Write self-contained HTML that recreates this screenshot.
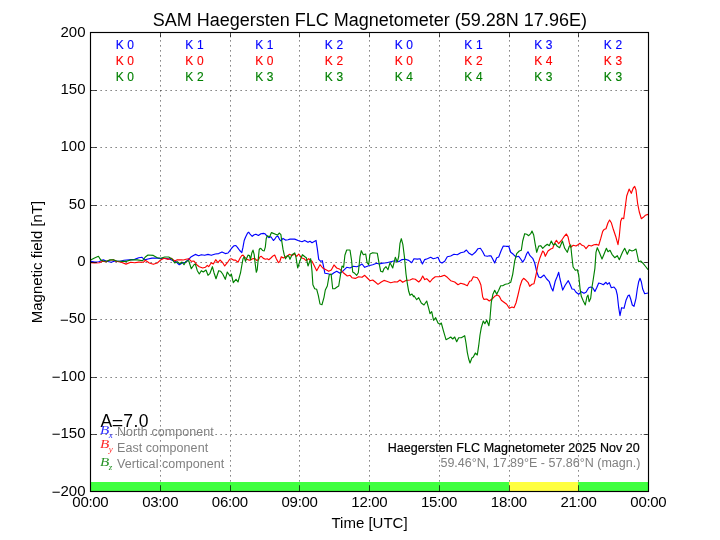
<!DOCTYPE html>
<html><head><meta charset="utf-8"><title>SAM Haegersten FLC Magnetometer</title>
<style>
html,body{margin:0;padding:0;background:#fff;}
body{width:720px;height:540px;position:relative;overflow:hidden;font-family:"Liberation Sans",Arial,sans-serif;color:#000;}
.t{position:absolute;white-space:nowrap;line-height:1;}
.c{transform:translateX(-50%);}
.r{transform:translateX(-100%);}
.tick{font-size:15px;}
.k{font-size:12px;letter-spacing:0.15px;-webkit-text-stroke:0.12px currentColor;}
.b{color:#0000ff;}.rd{color:#ff0000;}.g{color:#008000;}
.gray{color:#808080;}
.mn{position:relative;top:1.2px;}
.bb{display:inline-block;transform:scale(1.08,0.9);transform-origin:0 78%;margin-right:0.8px;}
.m{font-family:"Liberation Serif","DejaVu Serif",serif;font-style:italic;}
</style></head><body>
<svg width="720" height="540" viewBox="0 0 720 540" style="position:absolute;left:0;top:0">
<path d="M160.5 491.5 V32.5 M230.5 491.5 V32.5 M299.5 491.5 V32.5 M369.5 491.5 V32.5 M439.5 491.5 V32.5 M509.5 491.5 V32.5 M578.5 491.5 V32.5 M90.5 434.5 H648.5 M90.5 377.5 H648.5 M90.5 319.5 H648.5 M90.5 262.5 H648.5 M90.5 205.5 H648.5 M90.5 147.5 H648.5 M90.5 90.5 H648.5" stroke="#000" stroke-width="0.625" stroke-dasharray="1.25 3.75" fill="none"/>
<rect x="90.5" y="482" width="558" height="9.5" fill="#40ff40"/>
<rect x="509.0" y="482" width="69.2" height="9.5" fill="#ffff40"/>
<path d="M90.7 261.3 L94.7 262.1 L98.7 261.7 L103.3 259.9 L106.7 261.3 L111.3 262.3 L114.7 261.0 L120.0 261.3 L124.0 260.3 L129.3 259.9 L134.7 259.4 L138.7 257.7 L142.0 257.3 L144.7 259.9 L148.0 259.0 L152.0 258.1 L157.3 258.1 L160.7 258.6 L165.3 258.3 L169.3 259.0 L173.3 260.7 L176.0 261.7 L179.3 264.7 L182.7 262.7 L185.3 262.4 L188.0 260.0 L191.3 256.7 L195.3 254.4 L198.7 255.7 L201.3 254.7 L204.7 255.3 L208.0 254.4 L211.3 255.3 L215.3 254.0 L218.7 253.6 L222.0 252.0 L225.3 253.6 L228.0 253.0 L229.7 250.9 L231.8 248.0 L233.8 245.9 L235.9 245.5 L237.6 247.6 L239.7 250.5 L241.8 252.6 L243.0 247.2 L244.2 240.5 L245.5 237.2 L247.6 233.0 L248.8 232.2 L250.5 234.7 L252.2 236.3 L254.2 234.7 L255.9 234.2 L258.4 235.5 L260.9 233.7 L263.4 233.4 L265.1 233.8 L266.8 235.9 L268.8 237.6 L270.9 236.8 L273.4 240.5 L274.7 239.2 L276.3 236.8 L278.0 236.3 L279.7 239.7 L280.9 240.9 L283.0 238.4 L285.5 240.1 L288.0 239.7 L290.0 239.1 L294.7 239.1 L298.7 240.7 L302.0 241.7 L304.7 240.4 L308.0 242.3 L310.0 241.3 L312.0 242.7 L316.0 240.4 L317.3 248.7 L318.7 259.3 L320.7 261.3 L322.3 260.7 L324.0 268.7 L324.9 273.3 L328.0 273.7 L331.3 274.7 L334.0 272.7 L336.7 271.3 L340.0 273.3 L343.3 270.7 L346.7 267.3 L350.0 268.0 L353.3 266.3 L356.7 266.7 L359.3 265.7 L362.0 264.0 L364.7 267.3 L368.7 265.7 L372.7 264.7 L376.7 263.3 L379.3 264.0 L382.7 263.1 L386.7 262.7 L390.7 261.7 L394.7 260.7 L398.7 261.7 L402.0 259.6 L405.3 259.3 L408.7 260.4 L411.7 262.7 L414.0 258.7 L417.3 259.1 L420.0 258.7 L422.4 264.0 L424.7 259.6 L427.3 258.7 L430.7 257.3 L433.3 258.7 L436.0 258.0 L438.0 257.3 L440.0 262.0 L442.0 263.1 L444.7 261.3 L447.3 256.7 L450.7 256.0 L454.0 254.3 L457.3 254.7 L460.7 252.7 L464.0 252.0 L466.4 250.0 L468.7 252.9 L472.0 255.1 L475.3 252.3 L478.0 248.7 L480.4 248.3 L482.7 251.7 L484.7 255.7 L487.3 256.3 L489.3 255.7 L491.1 255.9 L492.7 259.0 L494.7 263.0 L496.7 257.7 L498.7 257.0 L501.3 250.3 L503.3 246.1 L506.0 246.3 L508.7 246.3 L510.7 252.3 L513.3 254.3 L516.0 257.0 L518.7 256.3 L520.7 259.0 L522.7 262.1 L524.7 259.0 L526.7 253.7 L528.0 251.7 L530.0 255.7 L532.7 258.3 L534.7 263.0 L536.7 271.7 L538.7 277.0 L540.7 277.7 L544.0 275.0 L546.7 279.0 L549.3 281.7 L551.3 287.7 L552.9 291.0 L555.3 281.0 L557.3 276.3 L558.7 272.3 L560.0 279.0 L562.7 290.1 L565.3 285.0 L568.3 280.7 L570.0 284.3 L572.0 289.0 L574.0 289.3 L576.0 292.3 L578.7 294.3 L581.3 291.7 L584.0 293.3 L586.0 292.3 L588.7 287.7 L590.7 287.0 L592.7 287.7 L594.9 291.4 L596.7 287.7 L598.7 283.0 L601.3 283.7 L603.3 284.7 L606.0 282.3 L607.3 284.3 L609.3 282.6 L611.3 287.7 L614.0 287.0 L616.0 289.7 L617.3 295.0 L618.7 307.7 L620.0 315.7 L621.6 307.7 L624.0 308.3 L626.0 300.3 L628.0 295.7 L629.3 295.0 L630.7 299.0 L632.3 305.0 L634.0 306.3 L636.0 298.3 L637.3 289.0 L638.7 281.7 L640.0 278.3 L641.3 281.7 L642.7 289.0 L644.7 293.7 L648.0 293.0" stroke="#0000ff" stroke-width="1.15" fill="none" stroke-linejoin="round"/>
<path d="M90.7 262.6 L94.7 263.0 L99.3 262.7 L102.7 261.3 L105.3 261.7 L109.3 260.3 L113.3 259.7 L116.0 261.3 L121.3 262.3 L126.0 264.1 L130.7 262.3 L134.7 262.7 L138.7 262.1 L143.3 262.3 L145.3 260.3 L149.3 263.0 L153.3 264.3 L157.3 263.0 L160.7 259.9 L164.0 258.3 L168.0 259.4 L171.3 258.3 L174.7 261.0 L177.3 259.7 L181.3 259.9 L183.3 260.0 L186.0 259.3 L188.7 258.7 L191.3 261.3 L194.0 261.1 L196.7 264.7 L199.3 266.7 L202.7 268.0 L205.3 267.3 L207.3 265.3 L208.7 266.7 L211.3 262.7 L213.3 264.0 L215.7 259.7 L218.0 262.7 L220.0 260.0 L222.7 262.7 L224.7 266.0 L226.7 263.3 L228.0 261.8 L229.7 259.2 L231.3 258.8 L233.4 260.1 L235.5 260.1 L238.0 262.2 L240.1 258.0 L241.8 255.5 L243.0 255.1 L244.7 257.2 L246.8 259.2 L248.8 260.1 L250.5 260.1 L252.6 258.8 L254.7 258.4 L256.8 260.5 L258.4 259.7 L260.1 256.8 L261.3 256.3 L263.4 258.4 L265.5 259.2 L267.2 258.8 L268.8 259.7 L270.9 258.0 L273.0 255.9 L274.7 255.1 L276.3 258.8 L278.4 262.6 L279.7 261.8 L281.3 256.8 L283.4 258.0 L285.5 256.8 L288.0 255.5 L289.3 254.3 L292.0 255.6 L294.7 254.0 L296.7 256.4 L298.7 254.0 L301.3 257.7 L304.0 258.7 L306.0 260.7 L308.7 258.7 L310.0 260.0 L312.0 261.3 L314.0 265.3 L316.7 270.7 L320.0 264.7 L322.7 268.0 L326.0 269.7 L328.7 271.3 L331.3 270.0 L334.0 264.9 L336.7 268.0 L340.0 269.3 L343.3 272.7 L347.3 276.0 L350.0 275.3 L352.0 277.7 L355.3 278.4 L358.7 276.7 L362.0 277.3 L364.7 275.3 L367.3 278.0 L370.0 280.7 L372.7 280.0 L375.3 282.0 L378.0 284.4 L381.3 282.0 L384.0 280.4 L386.7 281.3 L390.7 282.7 L394.7 281.7 L397.3 282.0 L400.0 280.0 L402.7 282.3 L406.0 280.4 L410.0 280.0 L412.7 278.7 L415.3 279.3 L418.7 282.0 L420.7 280.0 L422.7 276.0 L424.7 279.6 L426.7 278.7 L430.0 282.0 L432.7 278.7 L435.3 276.7 L438.7 276.7 L441.3 276.4 L444.4 275.3 L447.3 277.3 L450.7 280.7 L454.7 282.0 L458.0 284.7 L460.7 283.3 L464.7 284.4 L467.3 285.7 L469.6 281.3 L471.3 280.7 L473.3 276.7 L477.3 277.7 L479.3 281.0 L480.9 285.0 L482.7 297.0 L484.0 299.4 L486.7 299.0 L489.3 301.0 L492.0 299.0 L494.7 296.3 L497.3 295.0 L499.3 296.3 L501.3 300.3 L504.0 302.3 L506.7 304.3 L509.3 308.3 L512.0 307.0 L514.0 307.7 L516.0 303.0 L518.0 295.0 L520.0 286.3 L522.0 280.3 L523.6 278.3 L526.0 280.3 L528.0 282.3 L529.7 286.3 L532.0 284.3 L534.0 283.7 L536.0 275.0 L538.0 264.3 L540.0 257.7 L542.7 251.0 L544.0 252.3 L545.3 256.3 L548.0 251.0 L550.7 249.0 L552.7 248.3 L554.7 243.0 L556.4 240.3 L558.7 243.7 L561.3 240.7 L564.0 236.7 L566.4 234.0 L568.0 236.7 L569.3 242.7 L570.7 247.3 L573.3 245.3 L576.0 246.0 L578.0 244.7 L580.0 243.3 L582.0 245.3 L584.0 246.0 L586.0 248.7 L588.7 245.3 L591.3 246.0 L594.0 244.7 L596.7 244.4 L598.7 245.3 L600.7 238.7 L602.7 231.3 L604.0 229.6 L606.0 228.7 L608.0 222.7 L609.6 220.0 L611.3 222.7 L613.3 229.3 L616.0 237.3 L618.0 244.7 L619.3 236.0 L620.7 221.3 L622.0 218.0 L623.7 218.7 L625.1 208.0 L626.7 196.0 L629.1 189.1 L631.3 193.3 L633.3 188.0 L634.7 186.4 L636.0 190.0 L637.6 203.3 L639.3 212.0 L641.3 218.7 L643.3 217.3 L645.3 215.3 L648.0 214.4" stroke="#ff0000" stroke-width="1.15" fill="none" stroke-linejoin="round"/>
<path d="M90.7 259.9 L94.0 258.3 L98.4 256.3 L100.7 259.9 L103.3 261.0 L106.7 261.3 L110.0 259.9 L113.3 259.9 L116.7 261.0 L121.3 261.3 L126.7 261.3 L130.7 259.9 L137.3 259.9 L142.7 260.7 L145.3 257.0 L148.0 255.0 L153.3 255.4 L157.3 257.7 L160.7 258.3 L164.7 257.0 L168.7 257.0 L172.0 259.0 L174.7 263.0 L177.3 261.7 L180.0 263.7 L182.0 262.0 L184.0 264.7 L186.0 261.3 L188.7 260.7 L191.3 268.7 L194.0 264.7 L195.3 264.0 L197.3 270.7 L199.3 274.0 L201.3 270.7 L203.3 272.0 L206.0 270.0 L208.0 275.3 L210.0 273.3 L212.4 266.7 L214.0 272.7 L216.0 278.7 L218.7 270.7 L220.7 271.3 L222.7 274.0 L225.3 279.3 L227.3 272.0 L230.0 276.0 L231.3 274.0 L233.3 282.7 L236.0 279.3 L238.0 282.0 L240.0 274.7 L240.5 273.0 L241.8 265.5 L243.0 258.8 L244.2 256.8 L245.5 261.3 L246.8 258.0 L248.0 255.1 L249.5 255.5 L250.5 259.7 L251.8 253.0 L253.0 250.1 L254.2 254.7 L255.1 263.0 L256.3 272.2 L257.2 269.7 L258.2 259.7 L259.2 249.7 L260.1 248.4 L261.3 248.8 L262.6 250.5 L264.2 250.9 L265.3 247.2 L266.2 238.8 L267.2 235.9 L268.4 236.3 L269.7 236.8 L270.7 234.2 L271.5 232.6 L273.4 233.4 L275.5 234.2 L277.6 235.1 L279.2 233.0 L280.9 234.7 L281.8 241.3 L283.0 249.2 L284.2 254.7 L285.5 258.8 L286.8 256.8 L288.0 255.5 L288.7 256.0 L290.0 259.3 L292.0 254.7 L294.7 252.9 L296.0 257.3 L297.7 268.0 L300.0 260.7 L302.4 254.7 L304.9 256.7 L306.3 257.7 L308.0 266.0 L310.7 258.7 L312.0 271.3 L312.9 284.7 L314.7 288.7 L316.7 289.3 L318.3 295.3 L320.0 304.0 L322.0 304.7 L324.0 297.3 L325.3 290.0 L327.3 286.0 L329.3 274.7 L331.1 274.0 L332.7 288.7 L334.7 288.7 L336.7 287.3 L338.7 286.0 L340.4 275.3 L342.0 266.0 L343.6 267.3 L344.9 255.3 L346.7 250.0 L350.0 250.0 L351.6 260.7 L352.7 272.0 L354.7 273.3 L356.7 275.3 L358.3 272.7 L360.0 256.7 L361.3 250.7 L363.3 254.7 L365.7 254.0 L367.1 262.7 L368.7 264.7 L370.0 254.0 L372.7 252.7 L377.3 253.3 L379.1 263.3 L380.7 271.3 L382.7 272.0 L384.0 268.7 L386.0 266.7 L388.0 269.7 L390.0 262.7 L392.7 268.0 L395.3 257.3 L397.3 262.0 L398.7 256.7 L400.0 243.3 L401.3 238.7 L402.9 244.7 L404.4 256.7 L406.0 274.0 L407.3 283.3 L408.7 291.3 L410.0 295.3 L412.0 294.0 L413.6 296.7 L414.0 295.7 L416.7 299.7 L418.7 297.7 L421.3 303.0 L424.0 305.0 L426.7 301.0 L428.7 308.3 L430.0 313.7 L431.7 311.7 L433.6 320.3 L435.7 317.7 L438.0 323.0 L440.0 324.3 L441.3 323.0 L443.3 330.3 L446.0 339.7 L448.7 338.3 L450.7 337.0 L452.7 339.0 L454.7 337.0 L456.7 341.7 L458.7 337.7 L461.3 337.7 L464.7 335.7 L466.0 343.0 L467.3 352.3 L468.7 359.0 L470.0 363.0 L472.0 357.7 L473.3 357.0 L475.3 353.0 L477.3 355.0 L478.7 345.7 L480.0 335.0 L481.3 327.7 L483.3 321.0 L484.9 323.7 L486.7 320.3 L488.9 325.7 L490.0 318.3 L491.3 302.3 L492.9 294.3 L494.7 290.3 L496.7 294.3 L498.7 290.3 L500.7 285.7 L502.7 285.7 L505.3 284.3 L508.0 283.7 L510.7 282.3 L512.7 274.3 L514.7 261.0 L516.7 253.7 L519.3 251.0 L521.3 250.3 L522.7 241.0 L524.7 233.7 L526.7 234.3 L528.7 235.7 L530.7 233.7 L532.0 231.0 L533.7 235.0 L535.1 243.7 L536.7 252.3 L538.7 246.1 L540.7 245.7 L542.7 248.3 L544.7 246.3 L547.3 244.3 L549.3 245.7 L551.3 241.0 L553.3 245.0 L555.3 243.7 L557.3 246.3 L559.6 247.7 L562.4 241.0 L564.7 248.3 L567.3 252.3 L569.3 246.3 L570.7 245.0 L571.7 255.0 L573.1 267.0 L575.3 270.3 L577.3 269.7 L578.7 275.0 L580.0 288.3 L581.3 296.3 L583.3 301.0 L585.3 305.0 L586.9 297.0 L588.0 295.0 L589.1 301.7 L590.7 298.3 L592.0 287.0 L593.3 279.0 L594.9 268.3 L596.0 252.3 L597.3 247.7 L599.3 252.3 L602.0 259.0 L604.0 254.3 L606.4 248.3 L608.0 251.7 L610.0 250.3 L612.0 254.3 L614.7 257.7 L617.3 255.7 L619.3 259.7 L621.3 255.0 L622.7 251.7 L624.7 248.3 L627.3 254.3 L629.3 249.7 L632.0 251.0 L634.0 250.3 L636.0 249.0 L637.3 255.0 L638.7 261.7 L640.7 261.0 L643.3 263.7 L646.0 267.0 L648.0 269.7" stroke="#008000" stroke-width="1.15" fill="none" stroke-linejoin="round"/>
<path d="M90.5 491.5 v-6.3 M90.5 32.5 v4.8 M160.5 491.5 v-6.3 M160.5 32.5 v4.8 M230.5 491.5 v-6.3 M230.5 32.5 v4.8 M299.5 491.5 v-6.3 M299.5 32.5 v4.8 M369.5 491.5 v-6.3 M369.5 32.5 v4.8 M439.5 491.5 v-6.3 M439.5 32.5 v4.8 M509.5 491.5 v-6.3 M509.5 32.5 v4.8 M578.5 491.5 v-6.3 M578.5 32.5 v4.8 M648.5 491.5 v-6.3 M648.5 32.5 v4.8 M90.5 491.5 h6.3 M648.5 491.5 h-4.8 M90.5 434.5 h6.3 M648.5 434.5 h-4.8 M90.5 377.5 h6.3 M648.5 377.5 h-4.8 M90.5 319.5 h6.3 M648.5 319.5 h-4.8 M90.5 262.5 h6.3 M648.5 262.5 h-4.8 M90.5 205.5 h6.3 M648.5 205.5 h-4.8 M90.5 147.5 h6.3 M648.5 147.5 h-4.8 M90.5 90.5 h6.3 M648.5 90.5 h-4.8 M90.5 32.5 h6.3 M648.5 32.5 h-4.8" stroke="#000" stroke-width="0.7" fill="none"/>
<rect x="90.5" y="32.5" width="558.0" height="459.0" fill="none" stroke="#000" stroke-width="1.15"/>
</svg>
<div class="t c" style="left:369.8px;top:10.8px;font-size:18px;">SAM Haegersten FLC Magnetometer (59.28N 17.96E)</div>
<div class="t c k b" style="left:124.9px;top:39.0px;">K 0</div>
<div class="t c k rd" style="left:124.9px;top:55.0px;">K 0</div>
<div class="t c k g" style="left:124.9px;top:71.0px;">K 0</div>
<div class="t c k b" style="left:194.6px;top:39.0px;">K 1</div>
<div class="t c k rd" style="left:194.6px;top:55.0px;">K 0</div>
<div class="t c k g" style="left:194.6px;top:71.0px;">K 2</div>
<div class="t c k b" style="left:264.4px;top:39.0px;">K 1</div>
<div class="t c k rd" style="left:264.4px;top:55.0px;">K 0</div>
<div class="t c k g" style="left:264.4px;top:71.0px;">K 3</div>
<div class="t c k b" style="left:334.1px;top:39.0px;">K 2</div>
<div class="t c k rd" style="left:334.1px;top:55.0px;">K 2</div>
<div class="t c k g" style="left:334.1px;top:71.0px;">K 3</div>
<div class="t c k b" style="left:403.9px;top:39.0px;">K 0</div>
<div class="t c k rd" style="left:403.9px;top:55.0px;">K 0</div>
<div class="t c k g" style="left:403.9px;top:71.0px;">K 4</div>
<div class="t c k b" style="left:473.6px;top:39.0px;">K 1</div>
<div class="t c k rd" style="left:473.6px;top:55.0px;">K 2</div>
<div class="t c k g" style="left:473.6px;top:71.0px;">K 4</div>
<div class="t c k b" style="left:543.4px;top:39.0px;">K 3</div>
<div class="t c k rd" style="left:543.4px;top:55.0px;">K 4</div>
<div class="t c k g" style="left:543.4px;top:71.0px;">K 3</div>
<div class="t c k b" style="left:613.1px;top:39.0px;">K 2</div>
<div class="t c k rd" style="left:613.1px;top:55.0px;">K 3</div>
<div class="t c k g" style="left:613.1px;top:71.0px;">K 3</div>
<div class="t r tick" style="left:85.5px;top:482.5px;"><span class="mn">−</span>200</div>
<div class="t r tick" style="left:85.5px;top:425.1px;"><span class="mn">−</span>150</div>
<div class="t r tick" style="left:85.5px;top:367.8px;"><span class="mn">−</span>100</div>
<div class="t r tick" style="left:85.5px;top:310.4px;"><span class="mn">−</span>50</div>
<div class="t r tick" style="left:85.5px;top:253.0px;">0</div>
<div class="t r tick" style="left:85.5px;top:195.6px;">50</div>
<div class="t r tick" style="left:85.5px;top:138.2px;">100</div>
<div class="t r tick" style="left:85.5px;top:80.9px;">150</div>
<div class="t r tick" style="left:85.5px;top:23.5px;">200</div>
<div class="t c tick" style="left:90.4px;top:493.5px;letter-spacing:-0.3px;">00:00</div>
<div class="t c tick" style="left:160.2px;top:493.5px;letter-spacing:-0.3px;">03:00</div>
<div class="t c tick" style="left:229.9px;top:493.5px;letter-spacing:-0.3px;">06:00</div>
<div class="t c tick" style="left:299.6px;top:493.5px;letter-spacing:-0.3px;">09:00</div>
<div class="t c tick" style="left:369.4px;top:493.5px;letter-spacing:-0.3px;">12:00</div>
<div class="t c tick" style="left:439.1px;top:493.5px;letter-spacing:-0.3px;">15:00</div>
<div class="t c tick" style="left:508.9px;top:493.5px;letter-spacing:-0.3px;">18:00</div>
<div class="t c tick" style="left:578.6px;top:493.5px;letter-spacing:-0.3px;">21:00</div>
<div class="t c tick" style="left:648.4px;top:493.5px;letter-spacing:-0.3px;">00:00</div>
<div class="t c tick" style="left:369.5px;top:515px;">Time [UTC]</div>
<div class="t tick" style="left:36.3px;top:262.3px;transform:translate(-50%,-50%) rotate(-90deg);">Magnetic field [nT]</div>
<div class="t" style="left:100.6px;top:412.7px;font-size:17.5px;letter-spacing:0.4px;">A<span style="display:inline-block;transform:translate(-0.7px,1.6px) scaleX(1.12);">=</span>7.0</div>
<div class="t m b" style="left:99.5px;top:423.3px;font-size:14px;opacity:.85;"><span class="bb">B</span><span style="font-size:9px;position:relative;top:3.6px;">x</span></div>
<div class="t gray" style="left:117px;top:425.6px;font-size:12.5px;letter-spacing:0.06px;">North component</div>
<div class="t m rd" style="left:99.5px;top:437.3px;font-size:14px;opacity:.85;"><span class="bb">B</span><span style="font-size:9px;position:relative;top:3.6px;">y</span></div>
<div class="t gray" style="left:117px;top:442.0px;font-size:12.5px;letter-spacing:0.06px;">East component</div>
<div class="t m g" style="left:99.5px;top:455.2px;font-size:14px;opacity:.85;"><span class="bb">B</span><span style="font-size:9px;position:relative;top:3.6px;">z</span></div>
<div class="t gray" style="left:117px;top:457.5px;font-size:12.5px;letter-spacing:0.06px;">Vertical component</div>
<div class="t r" style="left:639.8px;top:442.1px;font-size:12.5px;letter-spacing:0.05px;-webkit-text-stroke:0.2px #000;">Haegersten FLC Magnetometer 2025 Nov 20</div>
<div class="t r gray" style="left:640.3px;top:457.4px;font-size:12.5px;">59.46°N, 17.89°E - 57.86°N (magn.)</div>
</body></html>
